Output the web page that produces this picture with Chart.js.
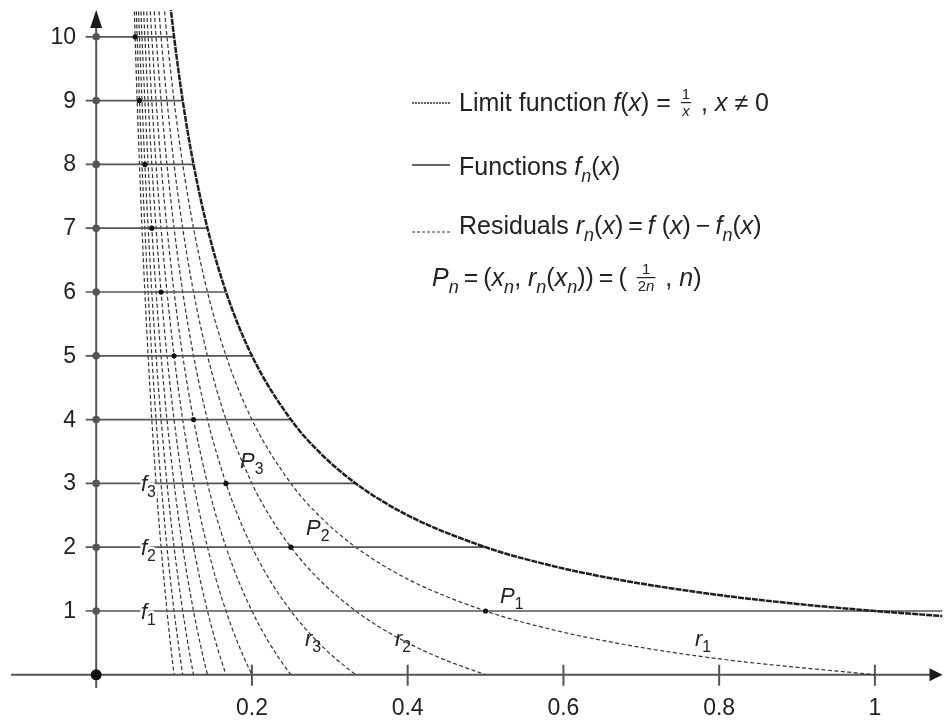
<!DOCTYPE html>
<html lang="en">
<head>
<meta charset="UTF-8">
<title>Limit function, functions f_n and residuals r_n</title>
<script src="https://cdn.jsdelivr.net/npm/chart.js"></script>
<style>
  html, body { margin: 0; padding: 0; background: #fff; }
  canvas { display: block; }
</style>
</head>
<body>
<canvas id="chart" width="948" height="720"></canvas>
<script>
// limit function f(x) = 1/x
const limX = [0.0952, 0.1, 0.1111, 0.125, 0.1429, 0.1667, 0.2, 0.25, 0.2857, 0.3333, 0.4, 0.5, 0.5714, 0.6667, 0.8, 0.9, 1, 1.0868];
const limY = [10.5, 10, 9, 8, 7, 6, 5, 4, 3.5, 3, 2.5, 2, 1.75, 1.5, 1.25, 1.111, 1, 0.92];

// horizontal functions f_n: level n up to x = 1/n (f_1 runs to the edge)
const fLevels = [1, 2, 3, 4, 5, 6, 7, 8, 9, 10];
const fStart = -0.0136;
const fEnds = [1.0868, 0.5, 0.3333, 0.25, 0.2, 0.1667, 0.1429, 0.125, 0.1111, 0.1];

// residuals r_n, shared heights, x positions per curve
const resY = [10.5, 10, 9, 8, 7, 6, 5, 4, 3, 2.5, 2, 1.5, 1, 0.75, 0.5, 0.25, 0];
const r1X = [0.0870, 0.0909, 0.1, 0.1111, 0.125, 0.1429, 0.1667, 0.2, 0.25, 0.2857, 0.3333, 0.4, 0.5, 0.5714, 0.6667, 0.8, 1];
const r2X = [0.08, 0.0833, 0.0909, 0.1, 0.1111, 0.125, 0.1429, 0.1667, 0.2, 0.2222, 0.25, 0.2857, 0.3333, 0.3636, 0.4, 0.4444, 0.5];
const r3X = [0.0741, 0.0769, 0.0833, 0.0909, 0.1, 0.1111, 0.125, 0.1429, 0.1667, 0.1818, 0.2, 0.2222, 0.25, 0.2667, 0.2857, 0.3077, 0.3333];
const r4X = [0.0690, 0.0714, 0.0769, 0.0833, 0.0909, 0.1, 0.1111, 0.125, 0.1429, 0.1538, 0.1667, 0.1818, 0.2, 0.2105, 0.2222, 0.2353, 0.25];
const r5X = [0.0645, 0.0667, 0.0714, 0.0769, 0.0833, 0.0909, 0.1, 0.1111, 0.125, 0.1333, 0.1429, 0.1538, 0.1667, 0.1739, 0.1818, 0.1905, 0.2];
const r6X = [0.0606, 0.0625, 0.0667, 0.0714, 0.0769, 0.0833, 0.0909, 0.1, 0.1111, 0.1176, 0.125, 0.1333, 0.1429, 0.1481, 0.1538, 0.16, 0.1667];
const r7X = [0.0571, 0.0588, 0.0625, 0.0667, 0.0714, 0.0769, 0.0833, 0.0909, 0.1, 0.1053, 0.1111, 0.1176, 0.125, 0.1290, 0.1333, 0.1379, 0.1429];
const r8X = [0.0541, 0.0556, 0.0588, 0.0625, 0.0667, 0.0714, 0.0769, 0.0833, 0.0909, 0.0952, 0.1, 0.1053, 0.1111, 0.1143, 0.1176, 0.1212, 0.125];
const r9X = [0.0513, 0.0526, 0.0556, 0.0588, 0.0625, 0.0667, 0.0714, 0.0769, 0.0833, 0.0870, 0.0909, 0.0952, 0.1, 0.1026, 0.1053, 0.1081, 0.1111];
const r10X = [0.0488, 0.05, 0.0526, 0.0556, 0.0588, 0.0625, 0.0667, 0.0714, 0.0769, 0.08, 0.0833, 0.0870, 0.0909, 0.0930, 0.0952, 0.0976, 0.1];
const residualX = [r1X, r2X, r3X, r4X, r5X, r6X, r7X, r8X, r9X, r10X];

// points P_n = (1/(2n), n)
const pX = [0.5, 0.25, 0.1667, 0.125, 0.1, 0.0833, 0.0714, 0.0625, 0.0556, 0.05];
const pY = [1, 2, 3, 4, 5, 6, 7, 8, 9, 10];

// ticks
const xTickVals = [0.2, 0.4, 0.6, 0.8, 1];
const xTickLabels = ['0.2', '0.4', '0.6', '0.8', '1'];
const yTickVals = [1, 2, 3, 4, 5, 6, 7, 8, 9, 10];
const yTickLabels = ['1', '2', '3', '4', '5', '6', '7', '8', '9', '10'];

const FONT = '"Liberation Sans", Arial, sans-serif';
const TEXT = '#222';
const AXIS = '#555';
const SUB = 0.72;

const pts = (xs, ys) => xs.map((v, i) => ({ x: v, y: ys[i] }));

function runFont(r, size) {
  return (r.i ? 'italic ' : '') + size + 'px ' + FONT;
}
function runsWidth(ctx, runs, size) {
  let w = 0;
  for (const r of runs) {
    ctx.font = runFont(r, r.s ? size * SUB : size);
    w += ctx.measureText(r.t).width;
  }
  return w;
}
function drawRuns(ctx, x, y, runs, size, stroke) {
  for (const r of runs) {
    if (r.fr) {
      const fs = size * 0.6;
      const wn = runsWidth(ctx, r.fr[0], fs), wd = runsWidth(ctx, r.fr[1], fs);
      const w = Math.max(wn, wd) + 8;
      drawRuns(ctx, x + (w - wn) / 2, y - 12, r.fr[0], fs, stroke);
      drawRuns(ctx, x + (w - wd) / 2, y + 5, r.fr[1], fs, stroke);
      if (!stroke) ctx.fillRect(x + 3, y - 9, w - 6, 1.2);
      x += w;
      continue;
    }
    const s = r.s ? size * SUB : size;
    ctx.font = runFont(r, s);
    const yy = y + (r.s ? size * 0.27 : 0);
    if (stroke) ctx.strokeText(r.t, x, yy); else ctx.fillText(r.t, x, yy);
    x += ctx.measureText(r.t).width;
  }
  return x;
}
function label(ctx, x, y, runs, size, halo) {
  ctx.textAlign = 'left';
  ctx.textBaseline = 'alphabetic';
  if (halo) {
    ctx.strokeStyle = '#fff';
    ctx.lineWidth = 5;
    ctx.lineJoin = 'round';
    drawRuns(ctx, x, y, runs, size, true);
  }
  ctx.fillStyle = TEXT;
  drawRuns(ctx, x, y, runs, size, false);
}

const legendRows = [
  { y: 111, line: 103, dash: [2, 1], w: 1.6, runs: [
    { t: 'Limit function ' }, { t: 'f', i: 1 }, { t: '(' }, { t: 'x', i: 1 }, { t: ') = ' },
    { fr: [[{ t: '1' }], [{ t: 'x', i: 1 }]] }, { t: ' , ' }, { t: 'x', i: 1 }, { t: ' \u2260 0' }] },
  { y: 175, line: 165, dash: [], w: 1.5, runs: [
    { t: 'Functions ' }, { t: 'f', i: 1 }, { t: 'n', i: 1, s: 1 }, { t: '(' }, { t: 'x', i: 1 }, { t: ')' }] },
  { y: 234, line: 232, dash: [3, 2], w: 1.2, runs: [
    { t: 'Residuals ' }, { t: 'r', i: 1 }, { t: 'n', i: 1, s: 1 }, { t: '(' }, { t: 'x', i: 1 }, { t: ')\u2009=\u2009' },
    { t: 'f', i: 1 }, { t: ' (' }, { t: 'x', i: 1 }, { t: ')\u2009\u2212\u2009' }, { t: 'f', i: 1 }, { t: 'n', i: 1, s: 1 },
    { t: '(' }, { t: 'x', i: 1 }, { t: ')' }] }
];
const pRow = [
  { t: 'P', i: 1 }, { t: 'n', i: 1, s: 1 }, { t: '\u2009=\u2009(' }, { t: 'x', i: 1 }, { t: 'n', i: 1, s: 1 }, { t: ', ' },
  { t: 'r', i: 1 }, { t: 'n', i: 1, s: 1 }, { t: '(' }, { t: 'x', i: 1 }, { t: 'n', i: 1, s: 1 }, { t: '))\u2009=\u2009( ' },
  { fr: [[{ t: '1' }], [{ t: '2' }, { t: 'n', i: 1 }]] }, { t: ' , ' }, { t: 'n', i: 1 }, { t: ')' }];

const curveLabels = [
  { x: 141, y: 619, runs: [{ t: 'f', i: 1 }, { t: '1', s: 1 }], halo: true },
  { x: 141, y: 555, runs: [{ t: 'f', i: 1 }, { t: '2', s: 1 }], halo: true },
  { x: 141, y: 491, runs: [{ t: 'f', i: 1 }, { t: '3', s: 1 }], halo: true },
  { x: 500, y: 603, runs: [{ t: 'P', i: 1 }, { t: '1', s: 1 }] },
  { x: 306, y: 535, runs: [{ t: 'P', i: 1 }, { t: '2', s: 1 }] },
  { x: 240, y: 468, runs: [{ t: 'P', i: 1 }, { t: '3', s: 1 }] },
  { x: 695, y: 646, runs: [{ t: 'r', i: 1 }, { t: '1', s: 1 }] },
  { x: 395, y: 646, runs: [{ t: 'r', i: 1 }, { t: '2', s: 1 }] },
  { x: 305, y: 646, runs: [{ t: 'r', i: 1 }, { t: '3', s: 1 }] }
];

const axesPlugin = {
  id: 'axes',
  beforeDatasetsDraw(chart) {
    const { ctx, scales: { x, y } } = chart;
    const x0 = x.getPixelForValue(0), y0 = y.getPixelForValue(0);
    ctx.save();
    ctx.strokeStyle = AXIS;
    ctx.lineWidth = 2;
    ctx.beginPath();
    ctx.moveTo(x.left, y0); ctx.lineTo(x.right - 10, y0);
    ctx.moveTo(x0, y.bottom); ctx.lineTo(x0, y.top + 15);
    xTickVals.forEach(v => {
      const px = x.getPixelForValue(v);
      ctx.moveTo(px, y0 - 10); ctx.lineTo(px, y0 + 11);
    });
    ctx.stroke();
    ctx.fillStyle = '#1a1a1a';
    ctx.beginPath();
    ctx.moveTo(x0, y.top); ctx.lineTo(x0 - 6, y.top + 18); ctx.lineTo(x0 + 6, y.top + 18);
    ctx.closePath(); ctx.fill();
    ctx.beginPath();
    ctx.moveTo(x.right, y0); ctx.lineTo(x.right - 13, y0 - 6.5); ctx.lineTo(x.right - 13, y0 + 6.5);
    ctx.closePath(); ctx.fill();

    ctx.font = '23px ' + FONT;
    ctx.fillStyle = TEXT;
    ctx.textBaseline = 'alphabetic';
    ctx.textAlign = 'right';
    yTickVals.forEach((v, i) => ctx.fillText(yTickLabels[i], 76, y.getPixelForValue(v) + 7));
    ctx.textAlign = 'center';
    xTickVals.forEach((v, i) => ctx.fillText(xTickLabels[i], x.getPixelForValue(v), 715));
    ctx.restore();
  },
  afterDatasetsDraw(chart) {
    const ctx = chart.ctx;
    ctx.save();
    curveLabels.forEach(l => label(ctx, l.x, l.y, l.runs, 22, l.halo));

    legendRows.forEach(row => {
      ctx.strokeStyle = '#333';
      ctx.lineWidth = row.w;
      ctx.setLineDash(row.dash);
      ctx.beginPath();
      ctx.moveTo(412, row.line); ctx.lineTo(450, row.line);
      ctx.stroke();
      ctx.setLineDash([]);
      label(ctx, 459, row.y, row.runs, 25, false);
    });
    label(ctx, 432, 286, pRow, 25, false);
    ctx.restore();
  }
};

const dotSet = (data, r, color) => ({
  data, showLine: false, pointRadius: r, pointBackgroundColor: color, pointBorderWidth: 0
});

const datasets = [
  dotSet(pts(pX, pY), 2.6, '#111'),
  dotSet(fLevels.map(v => ({ x: 0, y: v })), 3.8, '#555'),
  dotSet([{ x: 0, y: 0 }], 5.5, '#111'),
  {
    data: pts(limX, limY), showLine: true, pointRadius: 0,
    borderColor: '#1e1e1e', borderWidth: 2.5, borderDash: [6, 1],
    cubicInterpolationMode: 'monotone'
  },
  ...fLevels.map((lv, i) => ({
    data: [{ x: fStart, y: lv }, { x: fEnds[i], y: lv }], showLine: true, pointRadius: 0,
    borderColor: '#555', borderWidth: 1.7
  })),
  ...residualX.map(xs => ({
    data: pts(xs, resY), showLine: true, pointRadius: 0,
    borderColor: '#333', borderWidth: 1.2, borderDash: [4, 2.5],
    cubicInterpolationMode: 'monotone'
  }))
];

new Chart(document.getElementById('chart'), {
  type: 'scatter',
  data: { datasets },
  options: {
    responsive: false,
    animation: false,
    events: [],
    layout: { padding: { left: 11, right: 0, top: 10, bottom: 32 } },
    plugins: { legend: { display: false }, tooltip: { enabled: false } },
    scales: {
      x: { type: 'linear', min: -0.1094, max: 1.0868, display: false },
      y: { type: 'linear', min: -0.207, max: 10.42, display: false }
    }
  },
  plugins: [axesPlugin]
});
</script>
</body>
</html>
